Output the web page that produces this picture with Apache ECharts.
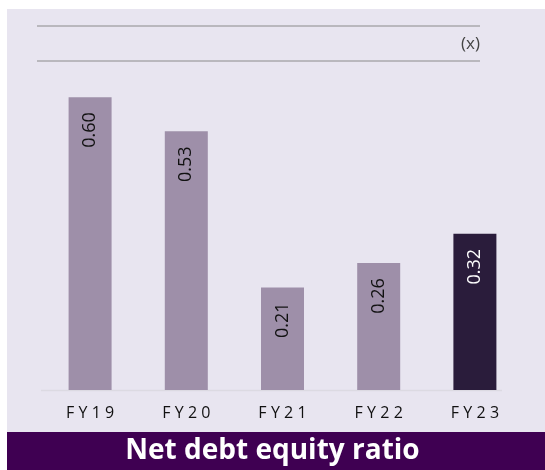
<!DOCTYPE html>
<html>
<head>
<meta charset="utf-8">
<script src="https://cdn.jsdelivr.net/npm/echarts@6/dist/echarts.min.js"></script>
<style>
  html, body { margin: 0; padding: 0; background: #fff; }
  #main { width: 545px; height: 470px; }
</style>
</head>
<body>
<div id="main"></div>
<script>
// data
var years = ['FY19', 'FY20', 'FY21', 'FY22', 'FY23'];
var ratios = [0.60, 0.53, 0.21, 0.26, 0.32];
var barColors = ['#9e8fa9', '#9e8fa9', '#9e8fa9', '#9e8fa9', '#2a1c3b'];
var labelColors = ['#111', '#111', '#111', '#111', '#fff'];

var font = '"Open Sans", "Noto Sans", sans-serif';

var seriesData = [];
for (var i = 0; i < ratios.length; i++) {
    seriesData.push({
        value: ratios[i],
        itemStyle: { color: barColors[i] },
        label: { color: labelColors[i] }
    });
}

var myChart = echarts.init(document.getElementById('main'));
var option = {
    backgroundColor: '#fff',
    animation: false,
    graphic: [
        // lavender panel
        { type: 'rect', z: -10, shape: { x: 7, y: 9, width: 538, height: 423 }, style: { fill: '#e8e5f0' } },
        // top rules
        { type: 'line', shape: { x1: 37, y1: 26, x2: 480, y2: 26 }, style: { stroke: '#8a8a8a', lineWidth: 1 } },
        { type: 'line', shape: { x1: 37, y1: 61, x2: 480, y2: 61 }, style: { stroke: '#8a8a8a', lineWidth: 1 } },
        { type: 'text', style: { x: 480, y: 44, text: '(x)', fill: '#444', font: '17px ' + font, textAlign: 'right', textVerticalAlign: 'middle' } },
        // baseline
        { type: 'line', shape: { x1: 41, y1: 390.5, x2: 502, y2: 390.5 }, style: { stroke: '#dcdae2', lineWidth: 1.5 } },
        // title band
        { type: 'rect', z: -10, shape: { x: 7, y: 432, width: 538, height: 38 }, style: { fill: '#3f0052' } }
    ],
    title: {
        text: 'Net debt equity ratio',
        left: 'center',
        top: 432,
        textStyle: { color: '#fff', fontSize: 28, fontWeight: 'bold', fontFamily: font }
    },
    grid: { left: 42, right: 22, top: 48.4, bottom: 80 },
    xAxis: {
        type: 'category',
        data: years,
        axisLine: { show: false },
        axisTick: { show: false },
        axisLabel: {
            margin: 15,
            color: '#111',
            fontSize: 16,
            fontFamily: font,
            formatter: function (v) { return v.split('').join('\u2009\u200a'); }
        }
    },
    yAxis: {
        type: 'value',
        min: 0,
        max: 0.7,
        show: false,
        splitLine: { show: false }
    },
    series: [{
        type: 'bar',
        barWidth: 43,
        data: seriesData,
        label: {
            show: true,
            position: 'insideTop',
            rotate: 90,
            align: 'right',
            verticalAlign: 'middle',
            distance: 15,
            fontSize: 18,
            fontFamily: font,
            formatter: function (p) { return p.value.toFixed(2); }
        }
    }]
};
myChart.setOption(option);
</script>
</body>
</html>
